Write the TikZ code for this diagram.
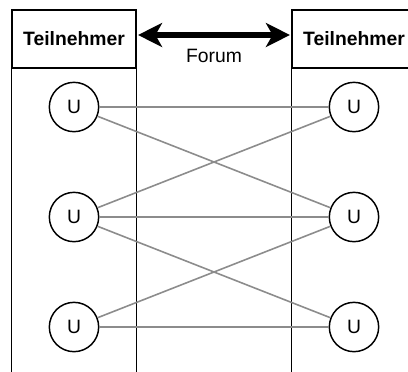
\documentclass[tikz,border=0pt]{standalone}
\usepackage{fontspec}
\setmainfont{Liberation Sans}
\usetikzlibrary{arrows.meta}

\begin{document}
\begin{tikzpicture}[x=0.75pt,y=-0.75pt,
	head/.style={draw,line width=1.1pt,minimum width=93pt,minimum height=43.5pt,inner sep=0pt,font=\fontsize{14.5}{16}\selectfont\bfseries},
	user/.style={draw,circle,line width=1.1pt,minimum size=37pt,inner sep=0pt,font=\fontsize{14.5}{16}\selectfont},
	link/.style={draw=gray!90,line width=1.2pt},
	forum/.style={line width=5pt,{Stealth[length=18pt,width=18pt,inset=5pt]}-{Stealth[length=18pt,width=18pt,inset=5pt]}}
]
\useasboundingbox (0,0) rectangle (408,372);
\clip (0,0) rectangle (408,372);

% the two columns
\node[head] (tnl) at (74,39) {Teilnehmer};
\node[head] (tnr) at (354,39) {Teilnehmer};
\draw[line width=1.1pt] (tnl.south west) -- ++(0,320) (tnl.south east) -- ++(0,320);
\draw[line width=1.1pt] (tnr.south west) -- ++(0,320) (tnr.south east) -- ++(0,320);

\draw[forum] ([yshift=3pt,xshift=1pt]tnl.east) -- ([yshift=3pt,xshift=-1pt]tnr.west)
	node[midway,below=5pt,font=\fontsize{14.5}{16}\selectfont] {Forum};

% users
\foreach \i/\y in {1/107,2/217,3/327} {
	\node[user] (l\i) at (74,\y) {U};
	\node[user] (r\i) at (354,\y) {U};
}

\draw[link] (l1) -- (r1);
\draw[link] (l1) -- (r2);
\draw[link] (l2) -- (r1);
\draw[link] (l2) -- (r2);
\draw[link] (l2) -- (r3);
\draw[link] (l3) -- (r2);
\draw[link] (l3) -- (r3);
\end{tikzpicture}
\end{document}
